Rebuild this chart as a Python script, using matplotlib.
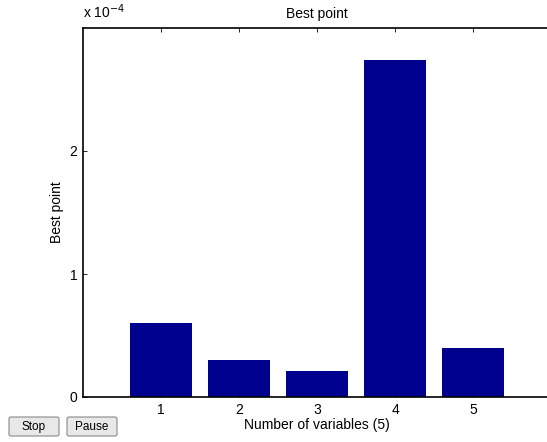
import matplotlib
matplotlib.use('Agg')
import matplotlib.pyplot as plt
from matplotlib.patches import FancyBboxPatch

# values (units of 1e-4)
variables = [1, 2, 3, 4, 5]
best_point = [0.60, 0.30, 0.21, 2.74, 0.40]
y_ticks = [0, 1, 2]
buttons = ["Stop", "Pause"]

plt.rcParams['font.family'] = ['Liberation Sans', 'DejaVu Sans']
plt.rcParams['font.size'] = 10

fig = plt.figure(figsize=(5.47, 4.42), dpi=100)
ax = fig.add_axes([83 / 547, 45 / 442, 468 / 547, 369 / 442])

ax.bar(variables, [v * 1e-4 for v in best_point], width=0.8, color='#00008f')
ax.set_xlim(0, 6)
ax.set_ylim(0, 3e-4)
ax.set_xticks(variables)
ax.set_yticks([t * 1e-4 for t in y_ticks])
ax.set_yticklabels([str(t) for t in y_ticks])
ax.tick_params(direction='in', length=3, top=True, width=0.6, labelsize=10, pad=4)
for side in ['left', 'bottom', 'top']:
    ax.spines[side].set_linewidth(1.2)
ax.spines['right'].set_visible(False)

ax.set_title("Best point", fontsize=10, pad=7)
ax.set_xlabel("Number of variables (5)", fontsize=10, labelpad=1)
ax.set_ylabel("Best point", fontsize=10, labelpad=4)
fig.text(83 / 547, 1 - 21 / 442, r"x 10$^{-4}$", fontsize=10, va='bottom', ha='left')

# Stop / Pause buttons
x0 = 9
for name in buttons:
    w = 50
    box = FancyBboxPatch((x0 / 547, 1 - 436 / 442), w / 547, 19 / 442,
                         boxstyle="round,pad=0,rounding_size=0.004",
                         transform=fig.transFigure, facecolor='#e8e8e8',
                         edgecolor='#8a8a8a', linewidth=0.8)
    fig.patches.append(box)
    fig.text((x0 + w / 2) / 547, 1 - 427 / 442, name, ha='center', va='center', fontsize=8.5)
    x0 += 58

fig.savefig("out.png", dpi=100)
